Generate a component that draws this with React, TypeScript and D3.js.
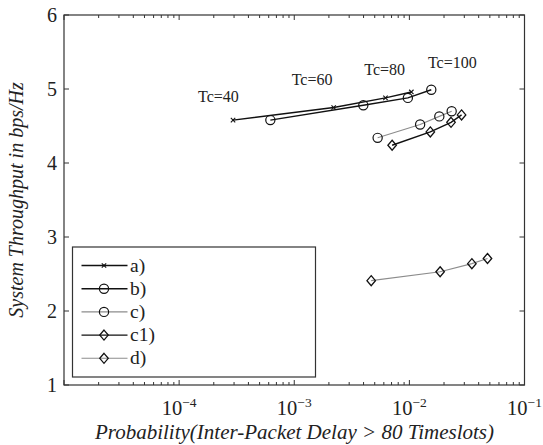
import React from "react";
import * as d3 from "d3";

const seriesNames = ["a)", "b)", "c)", "c1)", "d)"];
const seriesMarkers = ["x", "o", "o", "d", "d"];
const seriesColors = ["#111", "#111", "#8c8c8c", "#111", "#8c8c8c"];

const aX = [2.94e-4, 2.2e-3, 6.2e-3, 1.04e-2];
const aY = [4.58, 4.75, 4.88, 4.96];
const bX = [6.2e-4, 3.98e-3, 9.7e-3, 1.55e-2];
const bY = [4.58, 4.78, 4.88, 4.99];
const cX = [5.3e-3, 1.24e-2, 1.82e-2, 2.33e-2];
const cY = [4.34, 4.52, 4.63, 4.7];
const c1X = [7.08e-3, 1.52e-2, 2.3e-2, 2.84e-2];
const c1Y = [4.24, 4.42, 4.55, 4.65];
const dX = [4.66e-3, 1.85e-2, 3.49e-2, 4.77e-2];
const dY = [2.41, 2.53, 2.64, 2.71];

const yTicks = [1, 2, 3, 4, 5, 6];
const xTickExps = [-4, -3, -2, -1];
const annotations = ["Tc=40", "Tc=60", "Tc=80", "Tc=100"];
const annotationX = [1.46e-4, 9.5e-4, 4.06e-3, 1.45e-2];
const annotationY = [4.82, 5.05, 5.19, 5.28];

const FONT = "'Liberation Serif', 'Times New Roman', serif";

function Marker({ type, x, y }: { type: string; x: number; y: number }) {
  if (type === "x") {
    const s = 2.2;
    return (
      <g stroke="#111" strokeWidth={1.1}>
        <line x1={x - s} y1={y - s} x2={x + s} y2={y + s} />
        <line x1={x - s} y1={y + s} x2={x + s} y2={y - s} />
      </g>
    );
  }
  if (type === "o") {
    return <circle cx={x} cy={y} r={4.6} fill="none" stroke="#111" strokeWidth={1.2} />;
  }
  const r = 5;
  return (
    <path
      d={`M${x},${y - r}L${x + r * 0.85},${y}L${x},${y + r}L${x - r * 0.85},${y}Z`}
      fill="none"
      stroke="#111"
      strokeWidth={1.3}
    />
  );
}

export default function App() {
  const W = 543;
  const H = 445;
  const left = 64;
  const right = 524.5;
  const top = 15;
  const bottom = 385;
  const x = d3.scaleLog().domain([1e-5, 1e-1]).range([left, right]);
  const y = d3.scaleLinear().domain([1, 6]).range([bottom, top]);

  const series = [
    [aX, aY],
    [bX, bY],
    [cX, cY],
    [c1X, c1Y],
    [dX, dY],
  ];
  const line = d3
    .line<[number, number]>()
    .x((d) => x(d[0]))
    .y((d) => y(d[1]));

  const minorTicks: number[] = [];
  for (let e = -5; e < -1; e++) {
    for (let m = 2; m <= 9; m++) minorTicks.push(m * Math.pow(10, e));
  }
  const majorTicks = [-5, -4, -3, -2, -1].map((e) => Math.pow(10, e));

  const legX = 72.5;
  const legY = 247;
  const legW = 243;
  const legH = 130;

  return (
    <svg width={W} height={H} style={{ position: "absolute", left: 0, top: 0, background: "#fff" }} fontFamily={FONT}>
      <rect x={0} y={0} width={W} height={H} fill="#fff" />
      <g stroke="#333" strokeWidth={1}>
        {majorTicks.map((t, i) => (
          <g key={"M" + i}>
            <line x1={x(t)} x2={x(t)} y1={bottom} y2={bottom - 5} />
            <line x1={x(t)} x2={x(t)} y1={top} y2={top + 5} />
          </g>
        ))}
        {minorTicks.map((t, i) => (
          <g key={"m" + i}>
            <line x1={x(t)} x2={x(t)} y1={bottom} y2={bottom - 3} />
            <line x1={x(t)} x2={x(t)} y1={top} y2={top + 3} />
          </g>
        ))}
        {yTicks.map((t) => (
          <g key={"y" + t}>
            <line x1={left} x2={left + 5} y1={y(t)} y2={y(t)} />
            <line x1={right} x2={right - 5} y1={y(t)} y2={y(t)} />
          </g>
        ))}
      </g>
      <rect x={left} y={top} width={right - left} height={bottom - top} fill="none" stroke="#333" strokeWidth={1.2} />

      {yTicks.map((t) => (
        <text key={"yl" + t} x={left - 7} y={y(t) + 7} textAnchor="end" fontSize={20} fill="#222">
          {t}
        </text>
      ))}
      {xTickExps.map((e) => (
        <text key={"xl" + e} x={x(Math.pow(10, e))} y={414.5} textAnchor="middle" fontSize={20.5} fill="#222">
          10
          <tspan dy={-8} fontSize={13.5}>
            {"\u2212" + Math.abs(e)}
          </tspan>
        </text>
      ))}

      <text x={294.5} y={439} textAnchor="middle" fontSize={21} fontStyle="italic" fill="#222">
        {"Probability(Inter-Packet Delay > 80 Timeslots)"}
      </text>
      <text
        transform={`translate(23,${(top + bottom) / 2}) rotate(-90)`}
        textAnchor="middle"
        fontSize={20}
        fontStyle="italic"
        fill="#222"
      >
        System Throughput in bps/Hz
      </text>

      {series.map((s, i) => {
        const pts: [number, number][] = s[0].map((v, j) => [v, s[1][j]]);
        return (
          <g key={"s" + i}>
            <path d={line(pts) || ""} fill="none" stroke={seriesColors[i]} strokeWidth={seriesColors[i] === "#111" ? 1.4 : 1.1} />
            {pts.map((p, j) => (
              <Marker key={j} type={seriesMarkers[i]} x={x(p[0])} y={y(p[1])} />
            ))}
          </g>
        );
      })}

      {annotations.map((a, i) => (
        <text key={a} x={x(annotationX[i])} y={y(annotationY[i])} fontSize={16} fill="#222">
          {a}
        </text>
      ))}

      <rect x={legX} y={legY} width={legW} height={legH} fill="#fff" stroke="#333" strokeWidth={1.2} />
      {seriesNames.map((n, i) => {
        const ly = 265.5 + i * 23.2;
        return (
          <g key={n}>
            <line x1={81.5} x2={127.5} y1={ly} y2={ly} stroke={seriesColors[i]} strokeWidth={seriesColors[i] === "#111" ? 1.4 : 1.1} />
            <Marker type={seriesMarkers[i]} x={104} y={ly} />
            <text x={130} y={ly + 6} fontSize={19.5} fill="#222">
              {n}
            </text>
          </g>
        );
      })}
    </svg>
  );
}
